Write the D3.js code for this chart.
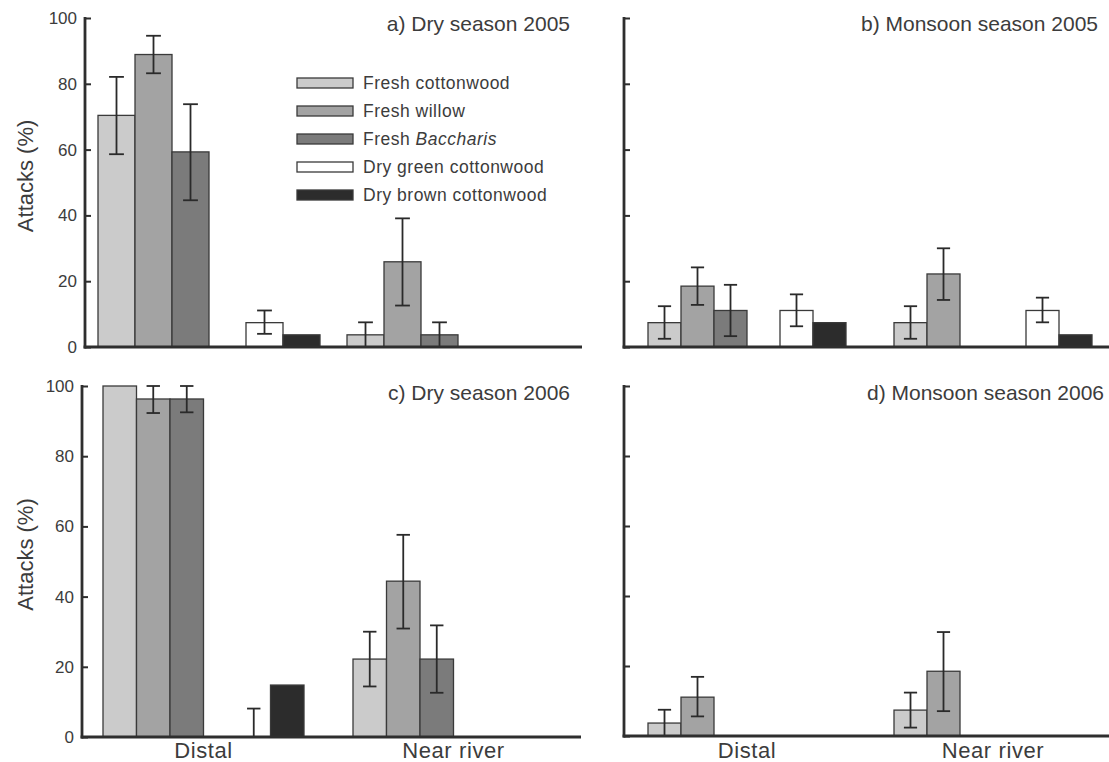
<!DOCTYPE html>
<html>
<head>
<meta charset="utf-8">
<script src="https://cdn.jsdelivr.net/npm/d3@7"></script>
<style>
  html, body { margin: 0; padding: 0; background: #fff; }
  svg { display: block; }
  text { font-family: "Liberation Sans", Arial, Helvetica, sans-serif; fill: #3c3c3c; }
</style>
</head>
<body>
<svg id="chart" width="1109" height="762"></svg>
<script>
// ---- data ----------------------------------------------------------------
const groups = ["Distal", "Near river"];
const series = ["Fresh cottonwood", "Fresh willow", "Fresh Baccharis",
                "Dry green cottonwood", "Dry brown cottonwood"];
const yTicks = [0, 20, 40, 60, 80, 100];

// values[series][group]; low/high = error bar ends (null = no bar)
const dry2005      = [[70.4, 3.7], [88.9, 25.9], [59.3, 3.7], [7.4, 0], [3.7, 0]];
const dry2005Low   = [[58.6, 0], [83.2, 12.6], [44.6, 0], [4.0, null], [null, null]];
const dry2005High  = [[82.1, 7.5], [94.6, 39.1], [73.8, 7.5], [11.1, null], [null, null]];

const mon2005      = [[7.4, 7.4], [18.5, 22.2], [11.1, 0], [11.1, 11.1], [7.4, 3.7]];
const mon2005Low   = [[2.5, 2.5], [12.8, 14.3], [3.3, null], [6.3, 7.5], [null, null]];
const mon2005High  = [[12.4, 12.4], [24.2, 30.0], [18.9, null], [16.0, 15.0], [null, null]];

const dry2006      = [[100, 22.2], [96.3, 44.4], [96.3, 22.2], [0, 0], [14.8, 0]];
const dry2006Low   = [[null, 14.4], [92.3, 30.9], [92.5, 12.6], [0, null], [null, null]];
const dry2006High  = [[null, 30.0], [100, 57.6], [100, 31.8], [8.1, null], [null, null]];

const mon2006      = [[3.7, 7.4], [11.1, 18.5], [0, 0], [0, 0], [0, 0]];
const mon2006Low   = [[0, 2.4], [5.6, 7.1], [null, null], [null, null], [null, null]];
const mon2006High  = [[7.5, 12.4], [16.9, 29.7], [null, null], [null, null], [null, null]];

// ---- styling -------------------------------------------------------------
const fills = ["#cbcbcb", "#a3a3a3", "#7b7b7b", "#ffffff", "#2c2c2c"];
const slotOf = [0, 1, 2, 4, 5];          // slot 3 is a spacer between fresh and dry
const axisColor = "#2e2e2e";

const panels = [
  { title: "a) Dry season 2005", v: dry2005, lo: dry2005Low, hi: dry2005High,
    axisX: 85, xStart: 98, slot: 37, step: 249, axisEnd: 582, y0: 347, y100: 18,
    titleX: 570, titleY: 31, tickLabels: true, categories: false, legend: true },
  { title: "b) Monsoon season 2005", v: mon2005, lo: mon2005Low, hi: mon2005High,
    axisX: 624, xStart: 648, slot: 33, step: 246, axisEnd: 1109, y0: 347, y100: 18,
    titleX: 1098, titleY: 31, tickLabels: false, categories: false },
  { title: "c) Dry season 2006", v: dry2006, lo: dry2006Low, hi: dry2006High,
    axisX: 82, xStart: 103, slot: 33.5, step: 250, axisEnd: 581, y0: 737, y100: 386,
    titleX: 570, titleY: 400, tickLabels: true, categories: true },
  { title: "d) Monsoon season 2006", v: mon2006, lo: mon2006Low, hi: mon2006High,
    axisX: 624, xStart: 648, slot: 33, step: 246, axisEnd: 1109, y0: 736, y100: 386,
    titleX: 1104, titleY: 400, tickLabels: false, categories: true }
];

const svg = d3.select("#chart");

panels.forEach(p => {
  const g = svg.append("g");
  const y = d3.scaleLinear().domain([0, 100]).range([p.y0, p.y100]);
  const groupW = 6 * p.slot;
  const xg = d3.scaleBand().domain(groups)
    .range([p.xStart, p.xStart + p.step + groupW])
    .paddingInner(1 - groupW / p.step).paddingOuter(0);
  const xs = d3.scaleBand().domain(d3.range(6)).range([0, groupW]).padding(0);

  // bars
  const cells = [];
  series.forEach((s, si) => groups.forEach((grp, gi) => {
    cells.push({ si, grp, v: p.v[si][gi], lo: p.lo[si][gi], hi: p.hi[si][gi],
                 x: xg(grp) + xs(slotOf[si]) });
  }));

  g.selectAll("rect.bar").data(cells.filter(d => d.v > 0)).join("rect")
    .attr("class", "bar")
    .attr("x", d => d.x).attr("width", xs.bandwidth())
    .attr("y", d => y(d.v)).attr("height", d => y(0) - y(d.v))
    .attr("fill", d => fills[d.si])
    .attr("stroke", "#3a3a3a").attr("stroke-width", 1.3);

  // error bars
  const capHalf = p.slot * 0.2;
  const eb = g.selectAll("g.err").data(cells.filter(d => d.hi !== null)).join("g")
    .attr("class", "err")
    .attr("stroke", "#2a2a2a").attr("stroke-width", 1.8).attr("fill", "none");
  eb.append("line")
    .attr("x1", d => d.x + xs.bandwidth() / 2).attr("x2", d => d.x + xs.bandwidth() / 2)
    .attr("y1", d => y(d.lo)).attr("y2", d => y(d.hi));
  eb.append("line")
    .attr("x1", d => d.x + xs.bandwidth() / 2 - capHalf).attr("x2", d => d.x + xs.bandwidth() / 2 + capHalf)
    .attr("y1", d => y(d.hi)).attr("y2", d => y(d.hi));
  eb.append("line")
    .attr("x1", d => d.x + xs.bandwidth() / 2 - capHalf).attr("x2", d => d.x + xs.bandwidth() / 2 + capHalf)
    .attr("y1", d => y(d.lo)).attr("y2", d => y(d.lo));

  // y axis (ticks point inward)
  const yAxis = d3.axisLeft(y).tickValues(yTicks).tickSizeInner(-6).tickSizeOuter(0)
    .tickPadding(8)
    .tickFormat(p.tickLabels ? d3.format("d") : () => "");
  const ya = g.append("g").attr("transform", `translate(${p.axisX},0)`).call(yAxis);
  ya.select(".domain").remove();
  ya.selectAll(".tick line").attr("stroke", axisColor).attr("stroke-width", 2);
  ya.selectAll(".tick text").attr("font-size", 17).attr("fill", "#3c3c3c")
    .style("font-family", "'Liberation Sans', Arial, sans-serif");

  g.append("line")
    .attr("x1", p.axisX).attr("x2", p.axisX)
    .attr("y1", y(100) - 1).attr("y2", y(0) + 1.5)
    .attr("stroke", axisColor).attr("stroke-width", 2.8);
  g.append("line")
    .attr("x1", p.axisX - 1.4).attr("x2", p.axisEnd)
    .attr("y1", y(0)).attr("y2", y(0))
    .attr("stroke", axisColor).attr("stroke-width", 2.8);

  if (p.tickLabels) {
    g.append("text")
      .attr("transform", `translate(25,${y(52)}) rotate(-90)`)
      .attr("text-anchor", "middle").attr("dominant-baseline", "central")
      .attr("font-size", 22).text("Attacks (%)");
  }

  // panel title
  g.append("text").attr("x", p.titleX).attr("y", p.titleY)
    .attr("text-anchor", "end").attr("font-size", 21).text(p.title);

  if (p.categories) {
    g.selectAll("text.cat").data(groups).join("text").attr("class", "cat")
      .attr("x", d => xg(d) + xg.bandwidth() / 2).attr("y", 758)
      .attr("text-anchor", "middle").attr("font-size", 22)
      .style("letter-spacing", "0.6px").text(d => d);
  }

  if (p.legend) {
    const lg = g.append("g").attr("transform", "translate(297,83)");
    const rowH = 28;
    const item = lg.selectAll("g").data(series).join("g")
      .attr("transform", (d, i) => `translate(0,${i * rowH})`);
    item.append("rect").attr("x", 0).attr("y", -5).attr("width", 56).attr("height", 10)
      .attr("fill", (d, i) => fills[i]).attr("stroke", "#3a3a3a").attr("stroke-width", 1.3);
    const t = item.append("text").attr("x", 66).attr("y", 0)
      .attr("dominant-baseline", "central").attr("font-size", 17.5)
      .style("letter-spacing", "0.5px");
    t.each(function(d) {
      const el = d3.select(this);
      if (d === "Fresh Baccharis") {
        el.append("tspan").text("Fresh ");
        el.append("tspan").attr("font-style", "italic").text("Baccharis");
      } else {
        el.text(d);
      }
    });
  }
});
</script>
</body>
</html>
